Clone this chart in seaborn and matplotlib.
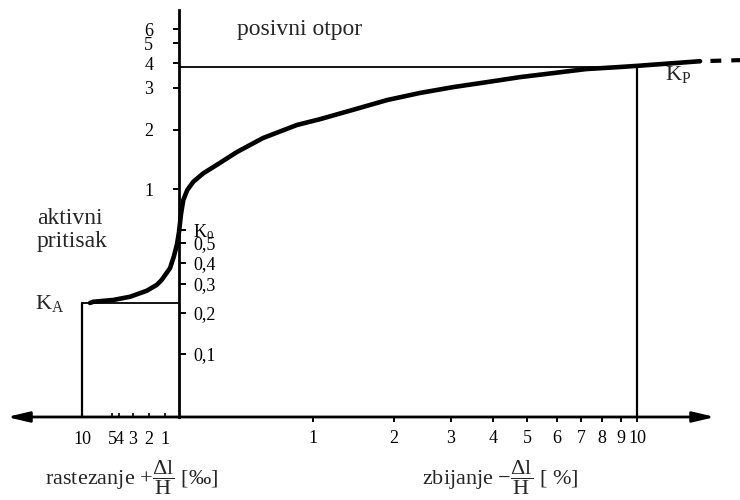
import numpy as np
import matplotlib
matplotlib.use("Agg")
import matplotlib.pyplot as plt
import seaborn as sns

# ---------------- data ----------------
# strain: negative = extension (rastezanje, in %), positive = compression (zbijanje, in %)
curve_strain = [-0.867, -0.812, -0.481, -0.321, -0.214, -0.152, -0.121, -0.064, -0.036,
                -0.014, 0.0, 0.015, 0.032, 0.062, 0.107, 0.181, 0.281, 0.433, 0.627,
                0.881, 1.086, 1.494, 1.914, 2.456, 3.048, 3.857, 4.794, 5.867, 7.238,
                8.947, 10.0, 12.06, 13.94]
curve_K = [0.23, 0.234, 0.240, 0.251, 0.273, 0.296, 0.317, 0.373, 0.432,
           0.494, 0.583, 0.732, 0.872, 0.988, 1.089, 1.202, 1.326, 1.545, 1.82,
           2.10, 2.22, 2.43, 2.67, 2.86, 3.03, 3.21, 3.40, 3.56, 3.73,
           3.82, 3.87, 3.98, 4.08]
tail_strain = [13.94, 16.44]
tail_K = [4.08, 4.13]

K_A = 0.23           # active pressure coefficient
K_P = 3.8            # passive resistance coefficient
strain_A = -1.0      # 10 permille extension
strain_P = 10.0      # 10 % compression

y_ticks_upper = [1, 2, 3, 4, 5, 6]
y_labels_upper = ["1", "2", "3", "4", "5", "6"]
y_ticks_lower = [0.1, 0.2, 0.3, 0.4, 0.5, 0.6]
y_labels_lower = ["0,1", "0,2", "0,3", "0,4", "0,5", r"K$_0$"]

x_ticks_compression = [1, 2, 3, 4, 5, 6, 7, 8, 9, 10]
x_ticks_extension_permille = [10, 5, 4, 3, 2, 1]

# ---------------- schematic axis warps (drawing's own scale) ----------------
X_VALS = np.array([-3.0, -1.0, -0.5, -0.4, -0.3, -0.2, -0.1, 0.0,
                   1, 2, 3, 4, 5, 6, 7, 8, 9, 10, 20])
X_POS = np.array([-38, 82, 112, 119, 133, 149, 165, 179,
                  313, 394, 451, 493, 527, 557, 581, 602, 621, 637, 797], dtype=float)

Y_LOGK = np.log10([0.001, 0.01, 0.1, 0.2, 0.3, 0.4, 0.5, 0.6, 1, 2, 3, 4, 5, 6, 30])
Y_POS = np.array([626, 490, 354, 313, 284, 263, 243, 230, 189, 130, 88, 63, 43, 29, -99],
                 dtype=float)


def x_fwd(v):
    return np.interp(v, X_VALS, X_POS)


def x_inv(p):
    return np.interp(p, X_POS, X_VALS)


def y_fwd(k):
    k = np.clip(np.asarray(k, dtype=float), 1e-6, None)
    return -np.interp(np.log10(k), Y_LOGK, Y_POS)


def y_inv(q):
    return 10 ** np.interp(q, -Y_POS, Y_LOGK)


AXIS_K = float(y_inv(-417.0))     # level of the horizontal axis
Y_TOP_K = float(y_inv(-10.0))     # top of the vertical axis
X_LEFT_END = float(x_inv(7.0))
X_RIGHT_END = float(x_inv(715.0))

# ---------------- style ----------------
sns.set_theme(style="white")
plt.rcParams["font.family"] = ["Liberation Serif", "DejaVu Serif"]
plt.rcParams["mathtext.fontset"] = "custom"
plt.rcParams["mathtext.rm"] = "Liberation Serif"
plt.rcParams["mathtext.it"] = "Liberation Serif:italic"
plt.rcParams["mathtext.bf"] = "Liberation Serif:bold"

fig = plt.figure(figsize=(7.4, 5.0), dpi=100)
ax = fig.add_axes([0, 0, 1, 1])
ax.set_facecolor("white")
ax.set_xscale("function", functions=(x_fwd, x_inv))
ax.set_yscale("function", functions=(y_fwd, y_inv))

# main curve
sns.lineplot(x=curve_strain, y=curve_K, sort=False, estimator=None, ax=ax,
             color="black", linewidth=3.3, solid_capstyle="round",
             solid_joinstyle="round")
ax.plot(tail_strain, tail_K, color="black", linewidth=3.0,
        linestyle=(2.5, (2.6, 2.4)))

# K_A box and K_P lines
ax.plot([strain_A, 0.0], [K_A, K_A], color="black", lw=1.3)
ax.plot([strain_A, strain_A], [AXIS_K, K_A], color="black", lw=1.6)
ax.plot([0.0, strain_P], [K_P, K_P], color="black", lw=1.3)
ax.plot([strain_P, strain_P], [AXIS_K, K_P], color="black", lw=1.6)

# spines
ax.spines["top"].set_visible(False)
ax.spines["left"].set_position(("data", 0.0))
ax.spines["left"].set_bounds(AXIS_K, Y_TOP_K)
ax.spines["left"].set_linewidth(2.0)
ax.spines["left"].set_color("black")
ax.spines["right"].set_position(("data", 0.0))
ax.spines["right"].set_visible(False)
ax.spines["bottom"].set_position(("data", AXIS_K))
ax.spines["bottom"].set_visible(False)

# horizontal axis with arrows
ax.annotate("", xy=(X_LEFT_END, AXIS_K), xytext=(X_RIGHT_END, AXIS_K),
            arrowprops=dict(arrowstyle="<|-|>,head_length=1.1,head_width=0.26",
                            mutation_scale=12, lw=2.0, color="black",
                            shrinkA=0, shrinkB=0))

# y ticks
ax.set_yticks(y_ticks_upper, labels=y_labels_upper)
ax.set_yticks(y_ticks_lower, labels=y_labels_lower, minor=True)
ax.yaxis.set_tick_params(which="major", left=True, right=False, labelleft=True,
                         labelright=False, direction="out", length=4.5, width=1.4,
                         pad=14, labelsize=13, color="black", labelcolor="black")
ax.yaxis.set_tick_params(which="minor", left=False, right=True, labelleft=False,
                         labelright=True, direction="out", length=5, width=1.4,
                         pad=5, labelsize=13, color="black", labelcolor="black")

# x ticks
ax.set_xticks(x_ticks_compression, labels=[str(v) for v in x_ticks_compression])
ax.set_xticks([-v / 10 for v in x_ticks_extension_permille],
              labels=[str(v) for v in x_ticks_extension_permille], minor=True)
ax.xaxis.set_tick_params(which="major", bottom=True, top=False, direction="out",
                         length=3.5, width=1.4, pad=6, labelsize=13,
                         color="black", labelcolor="black")
ax.xaxis.set_tick_params(which="minor", bottom=True, top=False, direction="in",
                         length=3, width=1.2, pad=10, labelsize=13,
                         color="black", labelcolor="black")

# annotations
ax.annotate(r"K$_\mathrm{A}$", xy=(strain_A, K_A), xytext=(-13, 0),
            textcoords="offset points", ha="right", va="center", fontsize=16)
ax.annotate(r"K$_\mathrm{P}$", xy=(strain_P, K_P), xytext=(20, -5),
            textcoords="offset points", ha="left", va="center", fontsize=16)

ax.text(237 / 740, 1 - 30 / 500, "posivni otpor", transform=ax.transAxes,
        ha="left", va="center", fontsize=17)
ax.text(37 / 740, 1 - 230 / 500, "aktivni\npritisak", transform=ax.transAxes,
        ha="left", va="center", fontsize=17, linespacing=1.1)

ax.text(132 / 740, 1 - 478 / 500,
        r"rastezanje $+\dfrac{\Delta\mathrm{l}}{\mathrm{H}}$ [‰]",
        transform=ax.transAxes, ha="center", va="center", fontsize=16)
ax.text(500 / 740, 1 - 478 / 500,
        r"zbijanje $-\dfrac{\Delta\mathrm{l}}{\mathrm{H}}$ [ %]",
        transform=ax.transAxes, ha="center", va="center", fontsize=16)

ax.set_xlim(float(x_inv(0.0)), float(x_inv(740.0)))
ax.set_ylim(float(y_inv(-500.0)), float(y_inv(0.0)))

fig.savefig("out.png", dpi=100, facecolor="white")
